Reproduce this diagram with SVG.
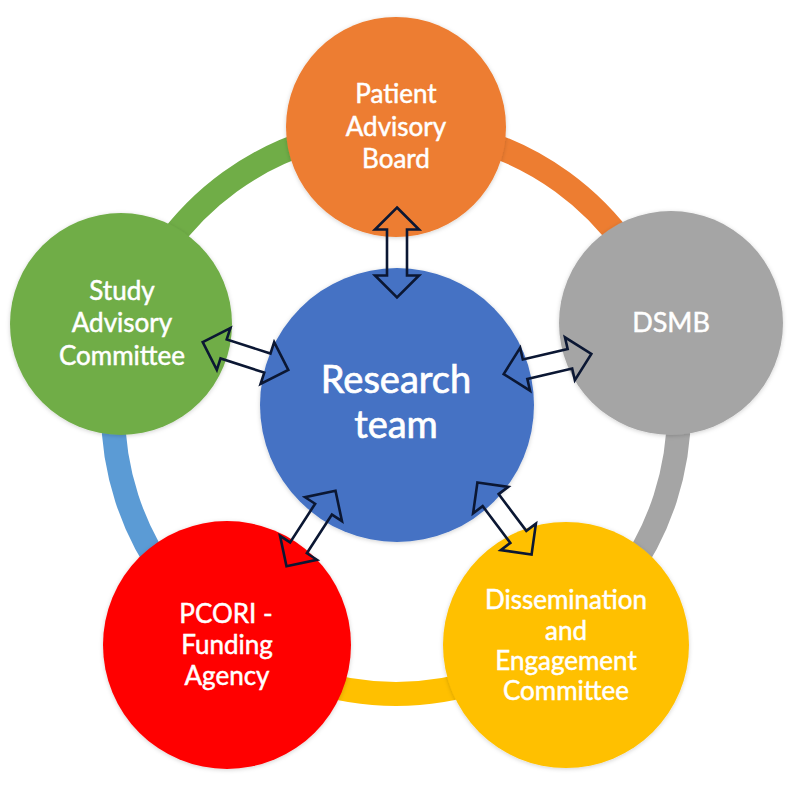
<svg xmlns="http://www.w3.org/2000/svg" width="793" height="794" viewBox="0 0 793 794">
  <defs>
    <style>
      .ring { fill: none; stroke-width: 24; }
      .node { stroke: none; }
      .lbl { font-family: "Lato", "Open Sans", "Liberation Sans", sans-serif; fill: #FFFFFF; stroke: #FFFFFF; stroke-width: 0.5; text-anchor: middle; font-size: 26px; }
      .big { font-size: 38px; stroke-width: 0.7; }
      .arrow { fill: none; stroke: #0B1733; stroke-width: 2.6; stroke-linejoin: miter; }
    </style>
    <polygon id="dbl" points="-45,0 -23,-22 -23,-10 23,-10 23,-22 45,0 23,22 23,10 -23,10 -23,22"/>
    <filter id="sh" x="-20%" y="-20%" width="140%" height="140%">
      <feDropShadow dx="0" dy="1" stdDeviation="2" flood-color="#000" flood-opacity="0.18"/>
    </filter>
  </defs>
  <rect width="793" height="794" fill="#FFFFFF"/>

  <g id="ring">
    <path class="ring" stroke="#ED7D31" d="M 396 128 A 283 283 0 0 1 665.15 323.55"/>
    <path class="ring" stroke="#A5A5A5" d="M 665.15 323.55 A 283 283 0 0 1 562.34 639.95"/>
    <path class="ring" stroke="#FFC000" d="M 562.34 639.95 A 283 283 0 0 1 229.66 639.95"/>
    <path class="ring" stroke="#5B9BD5" d="M 229.66 639.95 A 283 283 0 0 1 126.85 323.55"/>
    <path class="ring" stroke="#70AD47" d="M 126.85 323.55 A 283 283 0 0 1 396 128"/>
  </g>

  <g id="patient-advisory-board">
    <circle class="node" cx="396" cy="127" r="110" fill="#ED7D31" filter="url(#sh)"/>
    <text class="lbl" x="396" y="103">Patient</text>
    <text class="lbl" x="396" y="136">Advisory</text>
    <text class="lbl" x="396" y="168">Board</text>
  </g>

  <g id="dsmb">
    <circle class="node" cx="671" cy="323" r="112" fill="#A5A5A5" filter="url(#sh)"/>
    <text class="lbl" x="671" y="332" style="font-size:27px">DSMB</text>
  </g>

  <g id="study-advisory-committee">
    <circle class="node" cx="121" cy="324" r="111" fill="#70AD47" filter="url(#sh)"/>
    <text class="lbl" x="122" y="300">Study</text>
    <text class="lbl" x="122" y="332">Advisory</text>
    <text class="lbl" x="122" y="365">Committee</text>
  </g>

  <g id="pcori">
    <circle class="node" cx="227" cy="645" r="124" fill="#FF0000" filter="url(#sh)"/>
    <text class="lbl" x="226" y="623">PCORI -</text>
    <text class="lbl" x="227" y="654">Funding</text>
    <text class="lbl" x="227" y="685">Agency</text>
  </g>

  <g id="dissemination">
    <circle class="node" cx="566" cy="645" r="123" fill="#FFC000" filter="url(#sh)"/>
    <text class="lbl" x="566" y="609">Dissemination</text>
    <text class="lbl" x="566" y="640">and</text>
    <text class="lbl" x="566" y="670">Engagement</text>
    <text class="lbl" x="566" y="700">Committee</text>
  </g>

  <g id="research-team">
    <circle class="node" cx="397" cy="405" r="137" fill="#4472C4" filter="url(#sh)"/>
    <text class="lbl big" x="396" y="393">Research</text>
    <text class="lbl big" x="396" y="438">team</text>
  </g>

  <g id="connectors">
    <use href="#dbl" class="arrow" transform="translate(397 252.5) rotate(90)"/>
    <use href="#dbl" class="arrow" transform="translate(245.5 356) rotate(18)"/>
    <use href="#dbl" class="arrow" transform="translate(547.5 364) rotate(-13)"/>
    <use href="#dbl" class="arrow" transform="translate(311 528.5) rotate(-57)"/>
    <use href="#dbl" class="arrow" transform="translate(504.5 518.5) rotate(53)"/>
  </g>
</svg>
